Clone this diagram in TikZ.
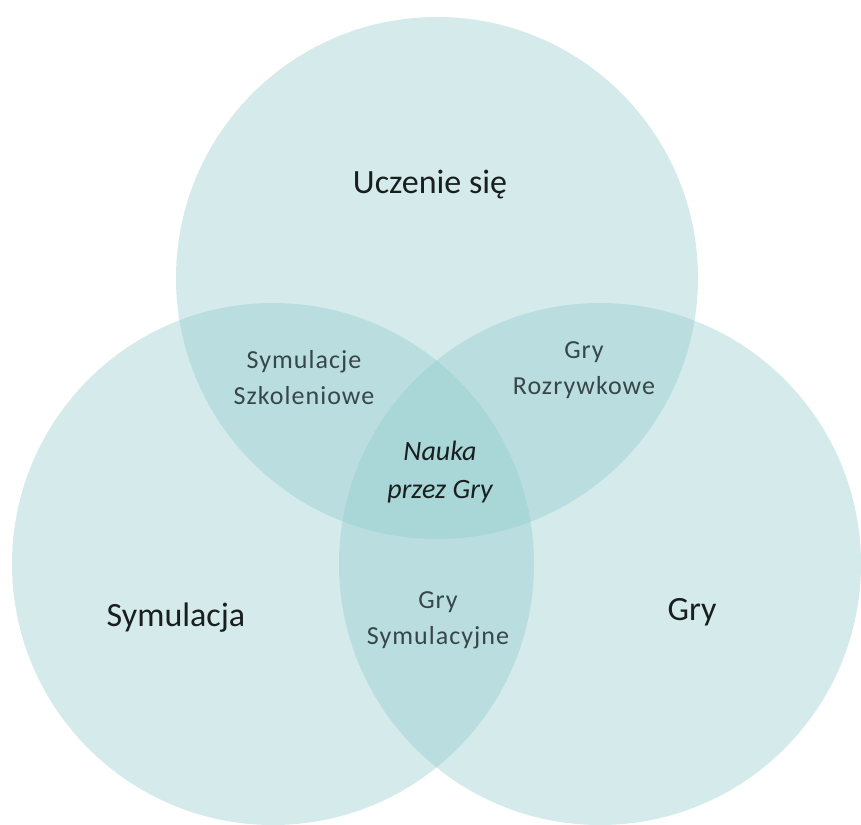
\documentclass[tikz,border=0pt]{standalone}
\usepackage{fontspec}
\setmainfont{Carlito}
\definecolor{vennfill}{RGB}{140,200,202}
\definecolor{bigtext}{RGB}{25,30,30}
\definecolor{smalltext}{RGB}{55,70,72}
\begin{document}
\begin{tikzpicture}[x=1pt,y=-1pt,
  venn/.style={fill=vennfill,fill opacity=0.36},
  biglabel/.style={text=bigtext,font=\fontsize{34}{38}\selectfont,inner sep=0pt},
  smalllabel/.style={text=smalltext,align=center,inner sep=0pt,
    font=\fontsize{26}{36}\selectfont\addfontfeatures{LetterSpace=4}},
  midlabel/.style={text=bigtext,align=center,inner sep=0pt,
    font=\fontsize{28}{38}\selectfont\itshape}]
\useasboundingbox (0,0) rectangle (861,824);
\fill[white] (0,0) rectangle (861,824);
\fill[venn] (437,278) circle (261);
\fill[venn] (273,564) circle (261);
\fill[venn] (600,564) circle (261);
\node[biglabel] (ucz) at (430,185) {Uczenie się};
\node[biglabel] (sym) at (176,618) {Symulacja};
\node[biglabel] (gry) at (692,612) {Gry};
\node[smalllabel] (szk) at (304,378) {Symulacje\\Szkoleniowe};
\node[smalllabel] (roz) at (584,370) {Gry\\Rozrywkowe};
\node[smalllabel] (gsym) at (438,620) {Gry\\Symulacyjne};
\node[midlabel] (nauka) at (440,472) {Nauka\\przez Gry};
\end{tikzpicture}
\end{document}
